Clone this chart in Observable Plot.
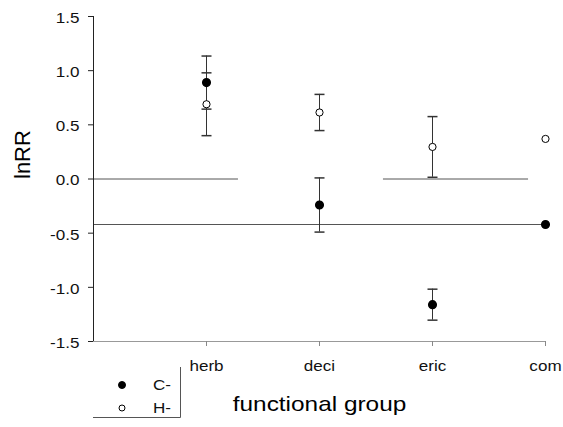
<!DOCTYPE html>
<html>
<head>
<meta charset="utf-8">
<script src="https://cdn.jsdelivr.net/npm/d3@7"></script>
<script src="https://cdn.jsdelivr.net/npm/@observablehq/plot@0.6"></script>
<style>
  html, body { margin: 0; padding: 0; background: #fff; }
  #wrap { position: relative; width: 563px; height: 427px; font-family: "Liberation Sans", Arial, sans-serif; }
  #legend { position: absolute; left: 93px; top: 367px; }
</style>
</head>
<body>
<div id="wrap"></div>
<script>
// ---- data ----
const groups = ["herb", "deci", "eric", "com"];
const series = ["C-", "H-"];
const cMean = [0.89, -0.24, -1.16, -0.42];
const cErr  = [0.245, 0.25, 0.143, null];
const hMean = [0.69, 0.614, 0.296, 0.37];
const hErr  = [0.29, 0.167, 0.28, null];
const yTicks = [-1.5, -1.0, -0.5, 0.0, 0.5, 1.0, 1.5];
const refY  = [0, 0, -0.42];
const refX1 = [0, 2.566, 0];
const refX2 = [1.283, 3.85, 4];

// ---- tables ----
const rows = groups.flatMap((g, i) => [
  {x: i + 1, y: cMean[i], e: cErr[i], s: series[0]},
  {x: i + 1, y: hMean[i], e: hErr[i], s: series[1]}
]);
const errRows = rows.filter(d => d.e != null);
const refLines = refY.map((y, i) => ({y, x1: refX1[i], x2: refX2[i]}));

const cap = {draw(ctx, size) { const r = Math.sqrt(size / Math.PI); ctx.moveTo(-r, 0); ctx.lineTo(r, 0); }};

const chart = Plot.plot({
  width: 563, height: 427,
  marginLeft: 93, marginRight: 18, marginTop: 16, marginBottom: 86,
  style: {fontFamily: "'Liberation Sans', Arial, sans-serif", fontSize: "14px", color: "#000", background: "#fff", overflow: "visible"},
  x: {domain: [0, 4]},
  y: {domain: [-1.5, 1.5]},
  marks: [
    Plot.ruleY(refLines, {y: "y", x1: "x1", x2: "x2", stroke: "#555", strokeWidth: 1}),
    Plot.ruleY([-1.5], {stroke: "#999", strokeWidth: 1.2}),
    Plot.ruleX([0], {stroke: "#222", strokeWidth: 1}),
    Plot.axisY({ticks: yTicks, tickSize: 5, text: null, label: null, stroke: "#222"}),
    Plot.axisY({ticks: yTicks, tickSize: 0, tickPadding: 14, tickFormat: d => d.toFixed(1), label: null, dy: 2, fill: "#111"}),
    Plot.axisX({ticks: [1, 2, 3, 4], tickSize: 5, text: null, label: null, stroke: "#888"}),
    Plot.axisX({ticks: [1, 2, 3, 4], tickSize: 0, tickPadding: 20, tickFormat: d => groups[d - 1], label: null, fill: "#111"}),
    Plot.ruleX(errRows, {x: "x", y1: d => d.y - d.e, y2: d => d.y + d.e, stroke: "#333"}),
    Plot.dot(errRows, {x: "x", y: d => d.y + d.e, symbol: cap, r: 5, fill: "none", stroke: "#333"}),
    Plot.dot(errRows, {x: "x", y: d => d.y - d.e, symbol: cap, r: 5, fill: "none", stroke: "#333"}),
    Plot.dot(rows.filter(d => d.s === series[0]), {x: "x", y: "y", r: 3.8, fill: "black", stroke: "black"}),
    Plot.dot(rows.filter(d => d.s === series[1]), {x: "x", y: "y", r: 3.6, fill: "white", stroke: "black", strokeWidth: 1}),
    Plot.text(["functional group"], {frameAnchor: "bottom", dy: 69, fontSize: 20}),
    Plot.text(["lnRR"], {frameAnchor: "left", rotate: -90, dx: -70.5, fontSize: 22})
  ]
});
const wrap = document.getElementById("wrap");
wrap.appendChild(chart);

// horizontally widen text like the reference
const NS = "http://www.w3.org/2000/svg";
chart.querySelectorAll("text").forEach(t => {
  if (t.textContent === "lnRR") return;
  const g = document.createElementNS(NS, "g");
  t.parentNode.insertBefore(g, t);
  g.appendChild(t);
  const b = g.getBBox();
  const a = getComputedStyle(t).textAnchor;
  const ax = a === "end" ? b.x + b.width : a === "middle" ? b.x + b.width / 2 : b.x;
  g.setAttribute("transform", `translate(${ax},0) scale(1.22,1) translate(${-ax},0)`);
});

// legend
const leg = d3.select(wrap).append("svg").attr("id", "legend").attr("width", 90).attr("height", 53)
  .style("font-family", "'Liberation Sans', Arial, sans-serif");
leg.append("line").attr("x1", 87.5).attr("x2", 87.5).attr("y1", 0).attr("y2", 50.5).attr("stroke", "#555");
leg.append("line").attr("x1", 0).attr("x2", 87.5).attr("y1", 50.5).attr("y2", 50.5).attr("stroke", "#555");
series.forEach((s, i) => {
  const cy = 18 + i * 23;
  leg.append("circle").attr("cx", 29).attr("cy", cy).attr("r", i === 0 ? 3.5 : 3)
    .attr("fill", i === 0 ? "black" : "white").attr("stroke", "black");
  leg.append("text").attr("transform", `translate(60,${cy + 5}) scale(1.22,1)`)
    .attr("font-size", 14).attr("fill", "#111").text(s);
});
</script>
</body>
</html>
